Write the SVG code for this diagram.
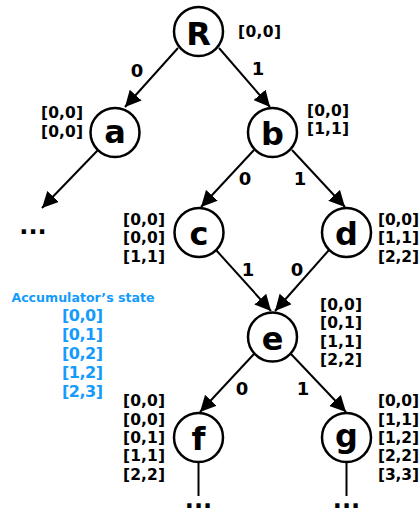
<svg xmlns="http://www.w3.org/2000/svg" width="420" height="514" viewBox="0 0 420 514">
<style>
.node circle{fill:#fff;stroke:#000;stroke-width:2.5}
.lbl{font-family:"DejaVu Sans","Liberation Sans",sans-serif;font-weight:bold;font-size:32px;text-anchor:middle;fill:#000}
.edge{stroke:#000;stroke-width:2;fill:none}
.el{font-family:"DejaVu Sans","Liberation Sans",sans-serif;font-weight:bold;font-size:18px;text-anchor:middle;fill:#000}
.m{font-family:"DejaVu Sans","Liberation Sans",sans-serif;font-weight:bold;font-size:15.5px;fill:#000}
.blue .m{fill:#159bfb;font-size:16px}
.title{font-family:"DejaVu Sans","Liberation Sans",sans-serif;font-weight:bold;font-size:12.6px;text-anchor:middle;fill:#159bfb}
.dots{font-family:"DejaVu Sans","Liberation Sans",sans-serif;font-weight:bold;font-size:24px;text-anchor:middle;fill:#000}
</style>
<defs>
<marker id="arr" markerUnits="userSpaceOnUse" markerWidth="18" markerHeight="16" refX="16" refY="8" orient="auto">
<path d="M0,0 L16,8 L0,16 z" fill="#000"/>
</marker>
</defs>

<g id="connectors">
<line class="edge" x1="178" y1="48" x2="125" y2="107" marker-end="url(#arr)"/>
<line class="edge" x1="219" y1="48" x2="270" y2="107" marker-end="url(#arr)"/>
<line class="edge" x1="98" y1="150" x2="42" y2="208" marker-end="url(#arr)"/>
<line class="edge" x1="254" y1="150" x2="201" y2="207" marker-end="url(#arr)"/>
<line class="edge" x1="292" y1="150" x2="345" y2="207" marker-end="url(#arr)"/>
<line class="edge" x1="216" y1="250" x2="271" y2="311" marker-end="url(#arr)"/>
<line class="edge" x1="329" y1="250" x2="275" y2="311" marker-end="url(#arr)"/>
<line class="edge" x1="254" y1="354" x2="200" y2="412" marker-end="url(#arr)"/>
<line class="edge" x1="291" y1="354" x2="346" y2="412" marker-end="url(#arr)"/>
<line class="edge" x1="198.5" y1="462" x2="198.5" y2="496"/>
<line class="edge" x1="346.5" y1="462" x2="346.5" y2="496"/>
<text class="el" x="137" y="76.5">0</text>
<text class="el" x="258" y="74.5">1</text>
<text class="el" x="245" y="184.5">0</text>
<text class="el" x="300" y="184.5">1</text>
<text class="el" x="248" y="275.5">1</text>
<text class="el" x="297" y="275.5">0</text>
<text class="el" x="242" y="394.5">0</text>
<text class="el" x="303" y="394.5">1</text>
<text class="dots" x="33" y="233.5">...</text>
<text class="dots" x="198.5" y="508">...</text>
<text class="dots" x="346.5" y="508">...</text>
</g>

<g id="node-R" class="node">
<circle cx="198.5" cy="31.5" r="24.5"/>
<text class="lbl" x="198.5" y="45">R</text>
<text class="m" x="238" y="37" textLength="43" lengthAdjust="spacing">[0,0]</text>
</g>

<g id="node-a" class="node">
<circle cx="115" cy="132.5" r="24.5"/>
<text class="lbl" x="115" y="143">a</text>
<text class="m" x="41" y="118.3" textLength="42" lengthAdjust="spacing">[0,0]</text>
<text class="m" x="41" y="136.6" textLength="42" lengthAdjust="spacing">[0,0]</text>
</g>

<g id="node-b" class="node">
<circle cx="272.5" cy="132.5" r="24.5"/>
<text class="lbl" x="272.5" y="145">b</text>
<text class="m" x="307" y="115.5" textLength="42" lengthAdjust="spacing">[0,0]</text>
<text class="m" x="307" y="133.8" textLength="42" lengthAdjust="spacing">[1,1]</text>
</g>

<g id="node-c" class="node">
<circle cx="199" cy="232.5" r="24.5"/>
<text class="lbl" x="199" y="244.5">c</text>
<text class="m" x="123" y="225" textLength="42" lengthAdjust="spacing">[0,0]</text>
<text class="m" x="123" y="243.3" textLength="42" lengthAdjust="spacing">[0,0]</text>
<text class="m" x="123" y="261.6" textLength="42" lengthAdjust="spacing">[1,1]</text>
</g>

<g id="node-d" class="node">
<circle cx="346.5" cy="232.5" r="24.5"/>
<text class="lbl" x="346.5" y="245">d</text>
<text class="m" x="378" y="225" textLength="41" lengthAdjust="spacing">[0,0]</text>
<text class="m" x="378" y="243.3" textLength="41" lengthAdjust="spacing">[1,1]</text>
<text class="m" x="378" y="261.6" textLength="41" lengthAdjust="spacing">[2,2]</text>
</g>

<g id="node-e" class="node">
<circle cx="272.5" cy="337" r="24.5"/>
<text class="lbl" x="272.5" y="349.5">e</text>
<text class="m" x="320" y="309.5" textLength="42" lengthAdjust="spacing">[0,0]</text>
<text class="m" x="320" y="328" textLength="42" lengthAdjust="spacing">[0,1]</text>
<text class="m" x="320" y="346.5" textLength="42" lengthAdjust="spacing">[1,1]</text>
<text class="m" x="320" y="365" textLength="42" lengthAdjust="spacing">[2,2]</text>
</g>

<g id="node-f" class="node">
<circle cx="198.5" cy="437.5" r="24.5"/>
<text class="lbl" x="198.5" y="450">f</text>
<text class="m" x="123" y="406.3" textLength="42" lengthAdjust="spacing">[0,0]</text>
<text class="m" x="123" y="424.6" textLength="42" lengthAdjust="spacing">[0,0]</text>
<text class="m" x="123" y="442.9" textLength="42" lengthAdjust="spacing">[0,1]</text>
<text class="m" x="123" y="461.2" textLength="42" lengthAdjust="spacing">[1,1]</text>
<text class="m" x="123" y="479.5" textLength="42" lengthAdjust="spacing">[2,2]</text>
</g>

<g id="node-g" class="node">
<circle cx="346.5" cy="437.5" r="24.5"/>
<text class="lbl" x="346.5" y="447">g</text>
<text class="m" x="378" y="406.3" textLength="41" lengthAdjust="spacing">[0,0]</text>
<text class="m" x="378" y="424.6" textLength="41" lengthAdjust="spacing">[1,1]</text>
<text class="m" x="378" y="442.9" textLength="41" lengthAdjust="spacing">[1,2]</text>
<text class="m" x="378" y="461.2" textLength="41" lengthAdjust="spacing">[2,2]</text>
<text class="m" x="378" y="479.5" textLength="41" lengthAdjust="spacing">[3,3]</text>
</g>

<g id="accumulator-state" class="blue">
<text class="title" x="83" y="301.7">Accumulator’s state</text>
<text class="m" x="62" y="321.3" textLength="41" lengthAdjust="spacing">[0,0]</text>
<text class="m" x="62" y="340.2" textLength="41" lengthAdjust="spacing">[0,1]</text>
<text class="m" x="62" y="359.1" textLength="41" lengthAdjust="spacing">[0,2]</text>
<text class="m" x="62" y="378" textLength="41" lengthAdjust="spacing">[1,2]</text>
<text class="m" x="62" y="396.9" textLength="41" lengthAdjust="spacing">[2,3]</text>
</g>
</svg>
